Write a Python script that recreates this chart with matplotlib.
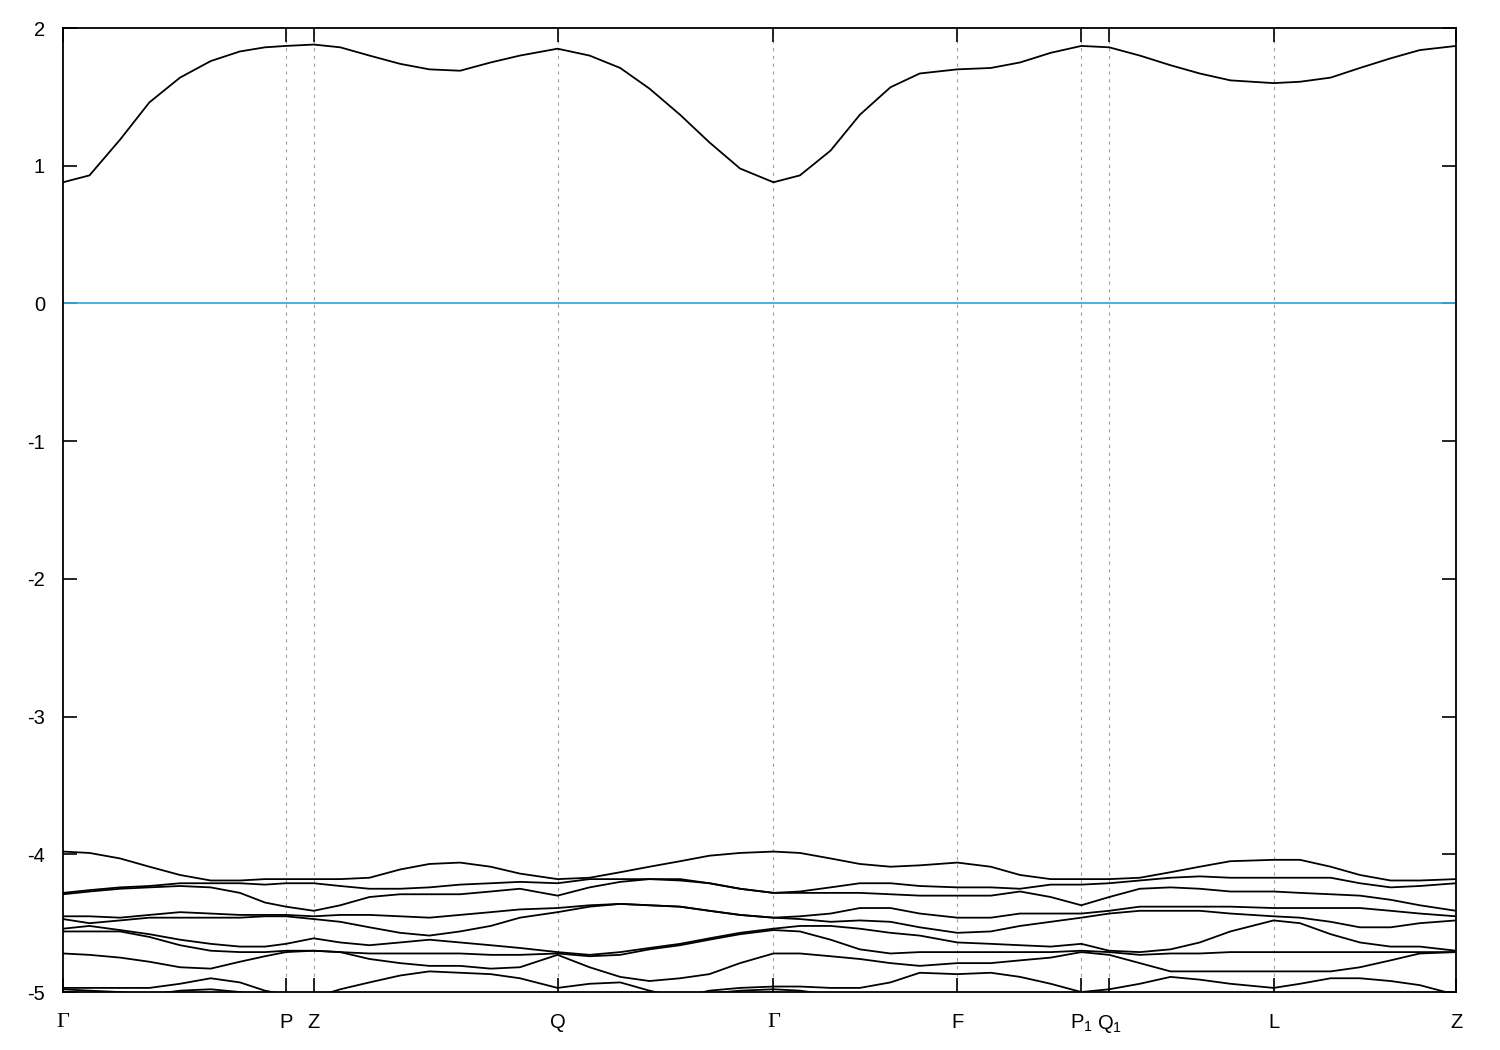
import numpy as np
import matplotlib
matplotlib.use("Agg")
import matplotlib.pyplot as plt

plt.rcParams['font.family'] = ['Liberation Sans', 'DejaVu Sans']
plt.rcParams['mathtext.default'] = 'regular'
plt.rcParams['axes.unicode_minus'] = False

# k-path (normalised distance along the path) and the high-symmetry points
k = [0.000, 0.019, 0.041, 0.062, 0.084, 0.106, 0.127, 0.145, 0.160, 0.180,
     0.199, 0.220, 0.242, 0.263, 0.285, 0.307, 0.328, 0.355, 0.378, 0.400,
     0.421, 0.443, 0.464, 0.486, 0.510, 0.529, 0.551, 0.572, 0.594, 0.615,
     0.642, 0.666, 0.687, 0.709, 0.731, 0.751, 0.773, 0.795, 0.816, 0.838,
     0.869, 0.888, 0.910, 0.931, 0.953, 0.974, 1.000]
kpoints = [0.0, 0.160, 0.180, 0.355, 0.510, 0.642, 0.731, 0.751, 0.869, 1.0]
klabels = ['Γ', 'P', 'Z', 'Q', 'Γ', 'F', 'P$_1$', 'Q$_1$', 'L', 'Z']

# conduction band
cb = [0.88, 0.93, 1.19, 1.46, 1.64, 1.76, 1.83, 1.86, 1.87, 1.88,
      1.86, 1.80, 1.74, 1.70, 1.69, 1.75, 1.80, 1.85, 1.80, 1.71,
      1.56, 1.37, 1.17, 0.98, 0.88, 0.93, 1.11, 1.37, 1.57, 1.67,
      1.70, 1.71, 1.75, 1.82, 1.87, 1.86, 1.80, 1.73, 1.67, 1.62,
      1.60, 1.61, 1.64, 1.71, 1.78, 1.84, 1.87]

# valence bands (top to bottom)
vb1 = [-3.98, -3.99, -4.03, -4.09, -4.15, -4.19, -4.19, -4.18, -4.18, -4.18,
       -4.18, -4.17, -4.11, -4.07, -4.06, -4.09, -4.14, -4.18, -4.17, -4.13,
       -4.09, -4.05, -4.01, -3.99, -3.98, -3.99, -4.03, -4.07, -4.09, -4.08,
       -4.06, -4.09, -4.15, -4.18, -4.18, -4.18, -4.17, -4.13, -4.09, -4.05,
       -4.04, -4.04, -4.09, -4.15, -4.19, -4.19, -4.18]
vb2 = [-4.28, -4.26, -4.24, -4.23, -4.21, -4.21, -4.21, -4.22, -4.21, -4.21,
       -4.23, -4.25, -4.25, -4.24, -4.22, -4.21, -4.20, -4.21, -4.18, -4.18,
       -4.18, -4.18, -4.21, -4.25, -4.28, -4.27, -4.24, -4.21, -4.21, -4.23,
       -4.24, -4.24, -4.25, -4.22, -4.22, -4.21, -4.19, -4.17, -4.16, -4.17,
       -4.17, -4.17, -4.17, -4.21, -4.24, -4.23, -4.21]
vb3 = [-4.29, -4.27, -4.25, -4.24, -4.23, -4.24, -4.28, -4.35, -4.38, -4.41,
       -4.37, -4.31, -4.29, -4.29, -4.29, -4.27, -4.25, -4.30, -4.24, -4.20,
       -4.18, -4.19, -4.21, -4.25, -4.28, -4.28, -4.28, -4.28, -4.29, -4.30,
       -4.30, -4.30, -4.27, -4.31, -4.37, -4.31, -4.25, -4.24, -4.25, -4.27,
       -4.27, -4.28, -4.29, -4.30, -4.33, -4.37, -4.41]
vb4 = [-4.45, -4.45, -4.46, -4.44, -4.42, -4.43, -4.44, -4.44, -4.44, -4.45,
       -4.44, -4.44, -4.45, -4.46, -4.44, -4.42, -4.40, -4.39, -4.37, -4.36,
       -4.37, -4.38, -4.41, -4.44, -4.46, -4.45, -4.43, -4.39, -4.39, -4.43,
       -4.46, -4.46, -4.43, -4.43, -4.43, -4.41, -4.38, -4.38, -4.38, -4.38,
       -4.39, -4.39, -4.39, -4.39, -4.41, -4.43, -4.45]
vb5 = [-4.47, -4.50, -4.48, -4.46, -4.46, -4.46, -4.46, -4.45, -4.45, -4.47,
       -4.49, -4.53, -4.57, -4.59, -4.56, -4.52, -4.46, -4.42, -4.38, -4.36,
       -4.37, -4.38, -4.41, -4.44, -4.46, -4.47, -4.49, -4.48, -4.49, -4.53,
       -4.57, -4.56, -4.52, -4.49, -4.46, -4.43, -4.41, -4.41, -4.41, -4.43,
       -4.45, -4.46, -4.49, -4.53, -4.53, -4.50, -4.48]
vb6 = [-4.54, -4.52, -4.55, -4.58, -4.62, -4.65, -4.67, -4.67, -4.65, -4.61,
       -4.64, -4.66, -4.64, -4.62, -4.64, -4.66, -4.68, -4.71, -4.73, -4.71,
       -4.68, -4.65, -4.61, -4.57, -4.54, -4.52, -4.52, -4.54, -4.57, -4.59,
       -4.64, -4.65, -4.66, -4.67, -4.65, -4.70, -4.71, -4.69, -4.64, -4.56,
       -4.48, -4.50, -4.58, -4.64, -4.67, -4.67, -4.70]
vb7 = [-4.56, -4.56, -4.56, -4.60, -4.66, -4.70, -4.71, -4.71, -4.70, -4.70,
       -4.71, -4.72, -4.72, -4.72, -4.72, -4.73, -4.73, -4.72, -4.74, -4.73,
       -4.69, -4.66, -4.62, -4.58, -4.55, -4.56, -4.62, -4.69, -4.72, -4.71,
       -4.71, -4.71, -4.71, -4.71, -4.70, -4.71, -4.73, -4.72, -4.72, -4.71,
       -4.71, -4.71, -4.71, -4.71, -4.71, -4.71, -4.71]
vb8 = [-4.72, -4.73, -4.75, -4.78, -4.82, -4.83, -4.78, -4.74, -4.71, -4.70,
       -4.71, -4.76, -4.79, -4.81, -4.81, -4.83, -4.82, -4.73, -4.82, -4.89,
       -4.92, -4.90, -4.87, -4.79, -4.72, -4.72, -4.74, -4.76, -4.79, -4.81,
       -4.79, -4.79, -4.77, -4.75, -4.71, -4.73, -4.79, -4.85, -4.85, -4.85,
       -4.85, -4.85, -4.85, -4.82, -4.77, -4.72, -4.71]
vb9 = [-4.97, -4.97, -4.97, -4.97, -4.94, -4.90, -4.93, -4.99, -5.02, -5.04,
       -4.98, -4.93, -4.88, -4.85, -4.86, -4.87, -4.90, -4.97, -4.94, -4.93,
       -4.99, -5.04, -4.99, -4.97, -4.96, -4.96, -4.97, -4.97, -4.93, -4.86,
       -4.87, -4.86, -4.89, -4.94, -5.00, -4.98, -4.94, -4.89, -4.91, -4.94,
       -4.97, -4.94, -4.90, -4.90, -4.92, -4.95, -5.02]
vb10 = [-4.98, -4.99, -5.00, -5.02, -4.99, -4.98, -5.00, -5.03, -5.06, -5.06,
        -5.06, -5.06, -5.06, -5.06, -5.06, -5.06, -5.06, -5.06, -5.06, -5.06,
        -5.06, -5.06, -5.01, -4.99, -4.98, -4.99, -5.02, -5.05, -5.06, -5.06,
        -5.06, -5.06, -5.06, -5.06, -5.06, -5.06, -5.06, -5.06, -5.06, -5.06,
        -5.06, -5.06, -5.06, -5.06, -5.06, -5.06, -5.06]
vb11 = [-5.00, -5.01, -5.04, -5.06, -5.06, -5.06, -5.06, -5.06, -5.06, -5.06,
        -5.06, -5.06, -5.06, -5.06, -5.06, -5.06, -5.06, -5.06, -5.06, -5.06,
        -5.06, -5.06, -5.06, -5.02, -5.00, -5.02, -5.06, -5.06, -5.06, -5.06,
        -5.06, -5.06, -5.06, -5.06, -5.06, -5.06, -5.06, -5.06, -5.06, -5.06,
        -5.06, -5.06, -5.06, -5.06, -5.06, -5.06, -5.06]

bands = [cb, vb1, vb2, vb3, vb4, vb5, vb6, vb7, vb8, vb9, vb10, vb11]

fig = plt.figure(figsize=(15, 10.5), dpi=100)
ax = fig.add_axes([0.042, 0.0552, 0.9287, 0.9181])

# high-symmetry lines
for kp in kpoints[1:-1]:
    ax.axvline(kp, color='#a0a0a0', lw=0.8, ls=(0, (3, 4)), zorder=1)

# Fermi level
ax.axhline(0, color='#3fa9d9', lw=1.3, zorder=2)

for b in bands:
    ax.plot(k, b, color='black', lw=1.3, zorder=3)

ax.set_xlim(0, 1)
ax.set_ylim(-5, 2)
ax.set_xticks(kpoints)
ax.set_xticklabels(klabels)
ax.set_yticks(range(-5, 3))

ax.tick_params(direction='in', length=10, width=1.2, labelsize=14.5,
               top=True, right=True, pad=13)
ax.tick_params(axis='x', pad=15)
for lbl in ax.get_xticklabels():
    if lbl.get_text() == 'Γ':
        lbl.set_fontfamily('Liberation Serif')
        lbl.set_fontsize(16)
for sp in ax.spines.values():
    sp.set_linewidth(1.3)

fig.savefig('out.png', dpi=100)
